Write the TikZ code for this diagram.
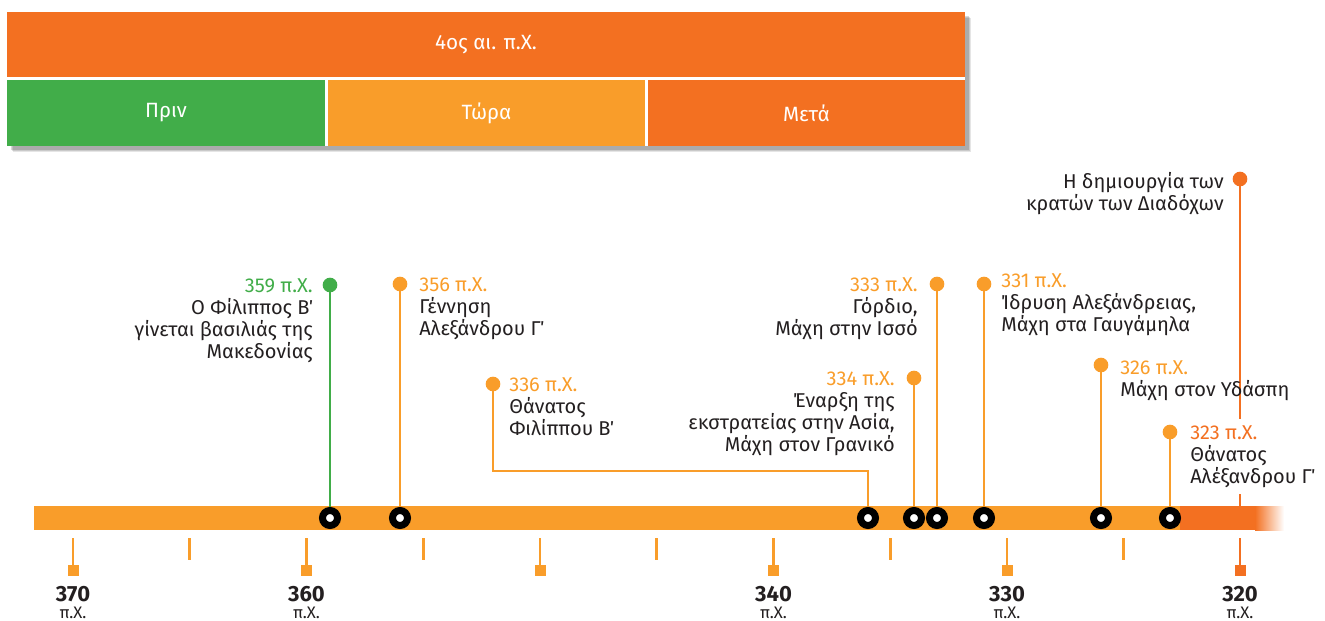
\documentclass[tikz,border=0pt]{standalone}
\usepackage{fontspec}
\setmainfont{Fira Sans}
\usetikzlibrary{positioning,calc,backgrounds}
\definecolor{beforecol}{HTML}{41AD49}
\definecolor{nowcol}{HTML}{F99D2A}
\definecolor{aftercol}{HTML}{F37021}
\definecolor{inkcol}{HTML}{231F20}
\tikzset{
  erabox/.style={
    inner sep=0pt,
    minimum height=49.5pt,
    text=white,
    font=\fontsize{15.5}{18}\selectfont
  },
  eventdot/.style={
    circle,
    inner sep=0pt,
    minimum size=11pt,
    fill=#1
  },
  barring/.style={
    circle,
    inner sep=0pt,
    minimum size=11.25pt,
    fill=white,
    draw=black,
    line width=5.25pt
  },
  eventline/.style={
    line width=1.8pt,
    draw=#1
  },
  evtext/.style={
    inner sep=0pt,
    text=inkcol,
    font=\fontsize{15}{16.5}\selectfont
  },
  yearlabel/.style={
    inner sep=0pt,
    text=inkcol,
    font=\fontsize{16.5}{18}\selectfont\bfseries
  },
  bclabel/.style={
    inner sep=0pt,
    text=inkcol,
    font=\fontsize{12.5}{14}\selectfont
  }
}

\begin{document}
\begin{tikzpicture}[x=0.75pt,y=-0.75pt]
\useasboundingbox (0,0) rectangle (1325,621);

% header: century and periods
\node[erabox, fill=aftercol, minimum width=718.5pt, minimum height=48.75pt] (century) at (486,44.5) {4ος αι. π.Χ.};
\node[erabox, fill=beforecol, minimum width=238.5pt] (before) at (166,113) {Πριν};
\node[erabox, fill=nowcol, minimum width=237.75pt] (now) at (486.5,113) {Τώρα};
\node[erabox, fill=aftercol, minimum width=237.75pt] (after) at (806.5,113) {Μετά};

% event dots (top) and rings (on the bar)
\node[eventdot=beforecol] (d359) at (330,285) {};
\node[eventdot=nowcol] (d356) at (400,284) {};
\node[eventdot=nowcol] (d336) at (493,384) {};
\node[eventdot=nowcol] (d334) at (914,378) {};
\node[eventdot=nowcol] (d333) at (937,284) {};
\node[eventdot=nowcol] (d331) at (984,284) {};
\node[eventdot=nowcol] (d326) at (1101,365) {};
\node[eventdot=nowcol] (d323) at (1170,432) {};
\node[eventdot=aftercol] (d320) at (1240,179) {};

\node[barring] (r359) at (330,518) {};
\node[barring] (r356) at (400,518) {};
\node[barring] (r336) at (868,518) {};
\node[barring] (r334) at (914,518) {};
\node[barring] (r333) at (937,518) {};
\node[barring] (r331) at (984,518) {};
\node[barring] (r326) at (1101,518) {};
\node[barring] (r323) at (1170,518) {};
\coordinate (b320) at (1240,506);
\coordinate (k336) at (493,471);

% event labels
\node[evtext, anchor=north east, align=right] (t359) at ($(d359)+(-17,-7)$)
  {\textcolor{beforecol}{359 π.Χ.}\\Ο Φίλιππος Β΄\\γίνεται βασιλιάς της\\Μακεδονίας};
\node[evtext, anchor=north west, align=left] (t356) at ($(d356)+(19,-7)$)
  {\textcolor{nowcol}{356 π.Χ.}\\Γέννηση\\Αλεξάνδρου Γ΄};
\node[evtext, anchor=north west, align=left] (t336) at ($(d336)+(16,-7)$)
  {\textcolor{nowcol}{336 π.Χ.}\\Θάνατος\\Φιλίππου Β΄};
\node[evtext, anchor=north east, align=right] (t334) at ($(d334)+(-19,-7)$)
  {\textcolor{nowcol}{334 π.Χ.}\\Έναρξη της\\εκστρατείας στην Ασία,\\Μάχη στον Γρανικό};
\node[evtext, anchor=north east, align=right] (t333) at ($(d333)+(-19,-7)$)
  {\textcolor{nowcol}{333 π.Χ.}\\Γόρδιο,\\Μάχη στην Ισσό};
\node[evtext, anchor=north west, align=left] (t331) at ($(d331)+(17,-11)$)
  {\textcolor{nowcol}{331 π.Χ.}\\Ίδρυση Αλεξάνδρειας,\\Μάχη στα Γαυγάμηλα};
\node[evtext, anchor=north west, align=left] (t326) at ($(d326)+(19,-5)$)
  {\textcolor{nowcol}{326 π.Χ.}\\Μάχη στον Υδάσπη};
\node[evtext, anchor=north west, align=left, fill=white, inner ysep=5pt] (t323) at ($(d323)+(20,-13.5)$)
  {\textcolor{aftercol}{323 π.Χ.}\\Θάνατος\\Αλέξανδρου Γ΄};
\node[evtext, anchor=north east, align=right] (t320) at ($(d320)+(-16,-7)$)
  {Η δημιουργία των\\κρατών των Διαδόχων};

% axis labels
\foreach \yr in {370,360,340,330} {
  \pgfmathsetmacro{\tx}{73+(370-\yr)*23.35}
  \node[yearlabel] (y\yr) at (\tx,594) {\yr};
  \node[bclabel, below=3.5pt of y\yr] (bc\yr) {π.Χ.};
}
\node[yearlabel] (y320) at (1240,594) {320};
\node[bclabel, below=3.5pt of y320] (bc320) {π.Χ.};

% ticks
\foreach \yr in {370,360,...,330} {
  \pgfmathsetmacro{\tx}{73+(370-\yr)*23.35}
  \draw[nowcol, line width=2pt] (\tx,538) -- (\tx,566);
  \fill[nowcol] (\tx-5.5,565) rectangle (\tx+5.5,576);
}
\foreach \yr in {365,355,...,325} {
  \pgfmathsetmacro{\tx}{73+(370-\yr)*23.35}
  \draw[nowcol, line width=2pt] (\tx,538) -- (\tx,560);
}
\draw[aftercol, line width=2pt] (1240,538) -- (1240,566);
\fill[aftercol] (1234.5,565) rectangle (1245.5,576);

\begin{pgfonlayer}{background}
  % header shadow
  \foreach \s/\o in {6/0.10,5/0.12,4/0.15} {
    \fill[black, opacity=\o] ($(century.north west)+(\s,\s)$) rectangle ($(after.south east)+(\s,\s)$);
  }
  \fill[white] (century.north west) rectangle (after.south east);
  % time bar
  \fill[nowcol] (34,506) rectangle (1180,530);
  \fill[aftercol] (1180,506) rectangle (1255,530);
  \shade[left color=aftercol, right color=white] (1255,506) rectangle (1284,530);
  % stems
  \draw[eventline=beforecol] (d359.center) -- (r359.center);
  \draw[eventline=nowcol] (d356.center) -- (r356.center);
  \draw[eventline=nowcol] (d336.center) -- (k336) -| (r336.center);
  \draw[eventline=nowcol] (d334.center) -- (r334.center);
  \draw[eventline=nowcol] (d333.center) -- (r333.center);
  \draw[eventline=nowcol] (d331.center) -- (r331.center);
  \draw[eventline=nowcol] (d326.center) -- (r326.center);
  \draw[eventline=nowcol] (d323.center) -- (r323.center);
  \draw[eventline=aftercol] (d320.center) -- (b320);
\end{pgfonlayer}
\end{tikzpicture}
\end{document}
